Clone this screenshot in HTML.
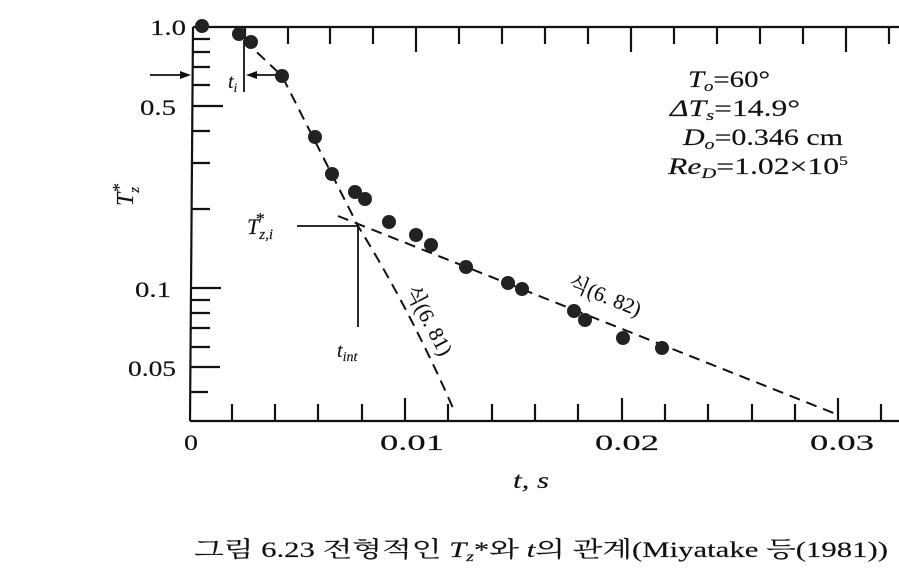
<!DOCTYPE html>
<html><head><meta charset="utf-8"><style>
html,body{margin:0;padding:0;background:#fff;}
svg{display:block;}
text{font-family:"Liberation Serif","Noto Serif CJK SC",serif;fill:#111;stroke:#111;stroke-width:0.15;}
</style></head><body>
<svg width="899" height="571" viewBox="0 0 899 571" xmlns="http://www.w3.org/2000/svg">
<g stroke="#111" stroke-width="2.2" fill="none">
<line x1="193" y1="27" x2="899" y2="27"/>
<line x1="193" y1="27" x2="190" y2="421"/>
<line x1="190" y1="421" x2="899" y2="421"/>
<line x1="193" y1="39" x2="210" y2="39"/>
<line x1="193" y1="52" x2="210" y2="52"/>
<line x1="193" y1="67" x2="210" y2="67"/>
<line x1="193" y1="85" x2="210" y2="85"/>
<line x1="193" y1="106" x2="223" y2="106"/>
<line x1="192" y1="131" x2="210" y2="131"/>
<line x1="192" y1="163" x2="210" y2="163"/>
<line x1="192" y1="209" x2="210" y2="209"/>
<line x1="191" y1="288" x2="221" y2="288"/>
<line x1="191" y1="300" x2="210" y2="300"/>
<line x1="191" y1="313" x2="210" y2="313"/>
<line x1="191" y1="328" x2="210" y2="328"/>
<line x1="191" y1="347" x2="210" y2="347"/>
<line x1="190" y1="367" x2="220" y2="367"/>
<line x1="190" y1="392" x2="208" y2="392"/>
<line x1="232" y1="421" x2="232" y2="404"/>
<line x1="275" y1="421" x2="275" y2="404"/>
<line x1="318" y1="421" x2="318" y2="404"/>
<line x1="362" y1="421" x2="362" y2="404"/>
<line x1="405" y1="421" x2="405" y2="398"/>
<line x1="448" y1="421" x2="448" y2="404"/>
<line x1="492" y1="421" x2="492" y2="404"/>
<line x1="535" y1="421" x2="535" y2="404"/>
<line x1="578" y1="421" x2="578" y2="404"/>
<line x1="622" y1="421" x2="622" y2="398"/>
<line x1="665" y1="421" x2="665" y2="404"/>
<line x1="708" y1="421" x2="708" y2="404"/>
<line x1="752" y1="421" x2="752" y2="404"/>
<line x1="795" y1="421" x2="795" y2="404"/>
<line x1="838" y1="421" x2="838" y2="398"/>
<line x1="881" y1="421" x2="881" y2="404"/>
<line x1="245" y1="27" x2="245" y2="44"/>
<line x1="288" y1="27" x2="288" y2="44"/>
<line x1="330" y1="27" x2="330" y2="44"/>
<line x1="373" y1="27" x2="373" y2="44"/>
<line x1="416" y1="27" x2="416" y2="52"/>
<line x1="459" y1="27" x2="459" y2="44"/>
<line x1="502" y1="27" x2="502" y2="44"/>
<line x1="545" y1="27" x2="545" y2="44"/>
<line x1="588" y1="27" x2="588" y2="44"/>
<line x1="631" y1="27" x2="631" y2="52"/>
<line x1="674" y1="27" x2="674" y2="44"/>
<line x1="717" y1="27" x2="717" y2="44"/>
<line x1="760" y1="27" x2="760" y2="44"/>
<line x1="803" y1="27" x2="803" y2="44"/>
<line x1="846" y1="27" x2="846" y2="52"/>
<line x1="889" y1="27" x2="889" y2="44"/>
</g>
<g stroke="#111" stroke-width="2" fill="none" stroke-dasharray="11,7">
<path d="M244,40 L282,76 L358,226 Q410,310 453,408"/>
<path d="M338,216 L836,414"/>
</g>
<g stroke="#111" stroke-width="1.8" fill="none">
<line x1="150" y1="75" x2="186" y2="75"/>
<line x1="244" y1="40" x2="244" y2="92"/>
<line x1="252" y1="75" x2="278" y2="75"/>
<line x1="297" y1="226" x2="358" y2="226"/>
<line x1="358" y1="226" x2="358" y2="327"/>
</g>
<polygon points="191,75 180,71 180,79" fill="#111"/>
<polygon points="246,75 257,71 257,79" fill="#111"/>
<g fill="#222">
<circle cx="202" cy="26" r="7"/><circle cx="239" cy="34" r="7"/><circle cx="251" cy="42" r="7"/>
<circle cx="282" cy="76" r="7"/><circle cx="315" cy="137" r="7"/><circle cx="332" cy="174" r="7"/>
<circle cx="355" cy="192" r="7"/><circle cx="365" cy="199" r="7"/><circle cx="389" cy="222" r="7"/>
<circle cx="416" cy="235" r="7"/><circle cx="431" cy="245" r="7"/><circle cx="466" cy="267" r="7"/>
<circle cx="508" cy="283" r="7"/><circle cx="522" cy="289" r="7"/><circle cx="574" cy="311" r="7"/>
<circle cx="585" cy="320" r="7"/><circle cx="623" cy="338" r="7"/><circle cx="662" cy="348" r="7"/>
</g>
<g font-size="22">
<text x="150" y="35" textLength="36" lengthAdjust="spacingAndGlyphs">1.0</text>
<text x="140" y="115" textLength="36" lengthAdjust="spacingAndGlyphs">0.5</text>
<text x="135" y="297" textLength="36" lengthAdjust="spacingAndGlyphs">0.1</text>
<text x="128" y="376" textLength="48" lengthAdjust="spacingAndGlyphs">0.05</text>
<text x="184" y="450" textLength="14" lengthAdjust="spacingAndGlyphs">0</text>
<text x="380" y="450" textLength="64" lengthAdjust="spacingAndGlyphs">0.01</text>
<text x="595" y="450" textLength="64" lengthAdjust="spacingAndGlyphs">0.02</text>
<text x="810" y="450" textLength="64" lengthAdjust="spacingAndGlyphs">0.03</text>
</g>
<text x="513" y="488" font-size="23" font-style="italic" textLength="36" lengthAdjust="spacingAndGlyphs">t, s</text>
<text transform="translate(133,195) rotate(-90)" font-size="24" font-style="italic" text-anchor="middle">T<tspan font-size="15" dy="6">z</tspan><tspan font-size="18" dy="-14" dx="-6">*</tspan></text>
<text x="228" y="88" font-size="20" font-style="italic">t<tspan font-size="13" dy="4">i</tspan></text>
<text x="247" y="234" font-size="22" font-style="italic">T<tspan font-size="15" dy="5">z,i</tspan><tspan font-size="18" dy="-14" dx="-18">*</tspan></text>
<text x="337" y="357" font-size="20" font-style="italic">t<tspan font-size="14" dy="4">int</tspan></text>
<text transform="translate(405,290) rotate(62)" font-size="21">식(6. 81)</text>
<text transform="translate(567,288) rotate(22)" font-size="21">식(6. 82)</text>
<g font-size="23">
<text x="688" y="87" textLength="82" lengthAdjust="spacingAndGlyphs"><tspan font-style="italic">T<tspan font-size="15" dy="4">o</tspan></tspan><tspan dy="-4">=60°</tspan></text>
<text x="670" y="116" textLength="130" lengthAdjust="spacingAndGlyphs"><tspan font-style="italic">ΔT<tspan font-size="15" dy="4">s</tspan></tspan><tspan dy="-4">=14.9°</tspan></text>
<text x="683" y="145" textLength="160" lengthAdjust="spacingAndGlyphs"><tspan font-style="italic">D<tspan font-size="15" dy="4">o</tspan></tspan><tspan dy="-4">=0.346 cm</tspan></text>
<text x="668" y="174" textLength="180" lengthAdjust="spacingAndGlyphs"><tspan font-style="italic">Re<tspan font-size="15" dy="4">D</tspan></tspan><tspan dy="-4">=1.02×10</tspan><tspan font-size="13" dy="-9">5</tspan></text>
</g>
<text x="194" y="557" font-size="22" textLength="694" lengthAdjust="spacingAndGlyphs">그림 6.23  전형적인 <tspan font-style="italic">T<tspan font-size="14" dy="4">z</tspan></tspan><tspan dy="-4">*와 </tspan><tspan font-style="italic">t</tspan>의 관계(Miyatake 등(1981))</text>
</svg>
</body></html>
